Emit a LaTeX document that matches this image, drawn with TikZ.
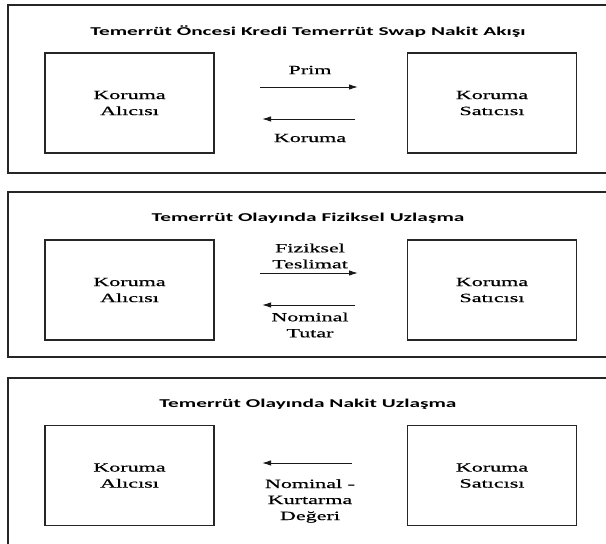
\documentclass[tikz,border=0pt]{standalone}
\usepackage{fontspec}
\setmainfont{Liberation Serif}[FakeStretch=1.75,FakeBold=0.6]
\newfontfamily\titlefont{Carlito}[FakeStretch=1.78]
\usetikzlibrary{arrows.meta}
\begin{document}
\begin{tikzpicture}[x=1pt,y=-1pt,
  panel/.style={draw=black!85, line width=1.7pt},
  party/.style={draw=black!85, line width=1.4pt, minimum width=169pt, minimum height=100pt,
    align=center, inner sep=0pt, font=\fontsize{12.6}{16}\selectfont},
  lbl/.style={align=center, inner sep=0pt, font=\fontsize{12.6}{16}\selectfont},
  ttl/.style={inner sep=0pt, font=\titlefont\bfseries\fontsize{12}{14}\selectfont},
  flow/.style={-{Latex[length=9pt,width=5.5pt]}, line width=1pt, black!90}]
\useasboundingbox (0,0) rectangle (606,544);
\clip (0,0) rectangle (606,544);
% panel frames
\draw[panel] (8,5) rectangle (640,173);
\draw[panel] (8,192) rectangle (640,357);
\draw[panel] (8,378) rectangle (640,570);

% ---------- panel 1
\node[ttl] (t1) at (308,32) {Temerrüt Öncesi Kredi Temerrüt Swap Nakit Akışı};
\node[party] (buy1) at (129.5,103) {Koruma\\Alıcısı};
\node[party] (sel1) at (492,103) {Koruma\\Satıcısı};
\coordinate (p1a) at (260,87);
\coordinate (p1b) at (358,87);
\coordinate (p1c) at (355,119);
\coordinate (p1d) at (262,119);
\draw[flow] (p1a) -- (p1b);
\draw[flow] (p1c) -- (p1d);
\node[lbl] (prim) at (310,70) {Prim};
\node[lbl] (kor) at (310,138) {Koruma};

% ---------- panel 2
\node[ttl] (t2) at (308,218) {Temerrüt Olayında Fiziksel Uzlaşma};
\node[party] (buy2) at (129.5,290) {Koruma\\Alıcısı};
\node[party] (sel2) at (492,290) {Koruma\\Satıcısı};
\coordinate (p2a) at (260,273);
\coordinate (p2b) at (358,273);
\coordinate (p2c) at (355,305);
\coordinate (p2d) at (262,305);
\draw[flow] (p2a) -- (p2b);
\draw[flow] (p2c) -- (p2d);
\node[lbl] (fiz) at (310,256) {Fiziksel\\Teslimat};
\node[lbl] (nom) at (310,325) {Nominal\\Tutar};

% ---------- panel 3
\node[ttl] (t3) at (308,404) {Temerrüt Olayında Nakit Uzlaşma};
\node[party] (buy3) at (129.5,475.5) {Koruma\\Alıcısı};
\node[party] (sel3) at (492,475.5) {Koruma\\Satıcısı};
\coordinate (p3a) at (352,463);
\coordinate (p3b) at (262,463);
\draw[flow] (p3a) -- (p3b);
\node[lbl] (kurt) at (310,501) {Nominal -\\Kurtarma\\Değeri};
\end{tikzpicture}
\end{document}
